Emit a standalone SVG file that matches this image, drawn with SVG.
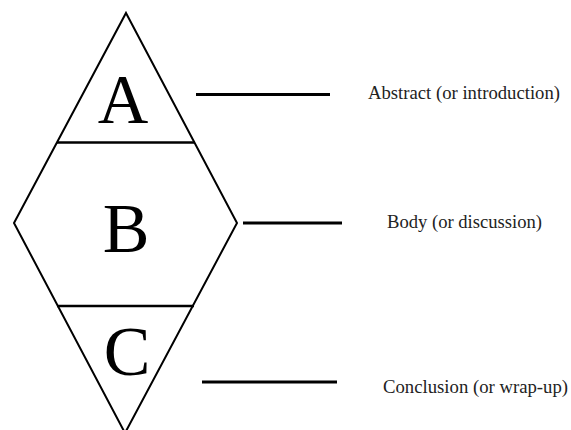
<svg xmlns="http://www.w3.org/2000/svg" width="571" height="430" viewBox="0 0 571 430">
<style>
.shape{fill:none;stroke:#000;stroke-width:2;stroke-linejoin:miter}
.div{stroke:#000;stroke-width:2.4}
.conn{stroke:#000;stroke-width:3}
.big{font-family:"Liberation Serif","Times New Roman",serif;font-size:70px;fill:#000;text-anchor:middle}
.lbl{font-family:"Liberation Serif","Times New Roman",serif;font-size:18.5px;fill:#222}
</style>
<rect width="571" height="430" fill="#fff"/>
<g id="diamond">
<polygon class="shape" points="126,13 237,223 125,433 14,223"/>
</g>
<g id="nodeA">
<line class="div" x1="57" y1="142.5" x2="195" y2="142.5"/>
<text class="big" x="123" y="123">A</text>
</g>
<g id="nodeB">
<text class="big" x="126" y="252">B</text>
</g>
<g id="nodeC">
<line class="div" x1="57" y1="306" x2="194" y2="306"/>
<text class="big" x="127" y="375">C</text>
</g>
<g id="connectors">
<line class="conn" x1="196" y1="94.5" x2="330" y2="94.5"/>
<line class="conn" x1="243" y1="223" x2="342" y2="223"/>
<line class="conn" x1="202" y1="382" x2="337" y2="382"/>
</g>
<g id="labels">
<text class="lbl" x="368" y="99" textLength="192" lengthAdjust="spacingAndGlyphs">Abstract (or introduction)</text>
<text class="lbl" x="387" y="228" textLength="155" lengthAdjust="spacingAndGlyphs">Body (or discussion)</text>
<text class="lbl" x="383" y="393" textLength="185" lengthAdjust="spacingAndGlyphs">Conclusion (or wrap-up)</text>
</g>
</svg>
